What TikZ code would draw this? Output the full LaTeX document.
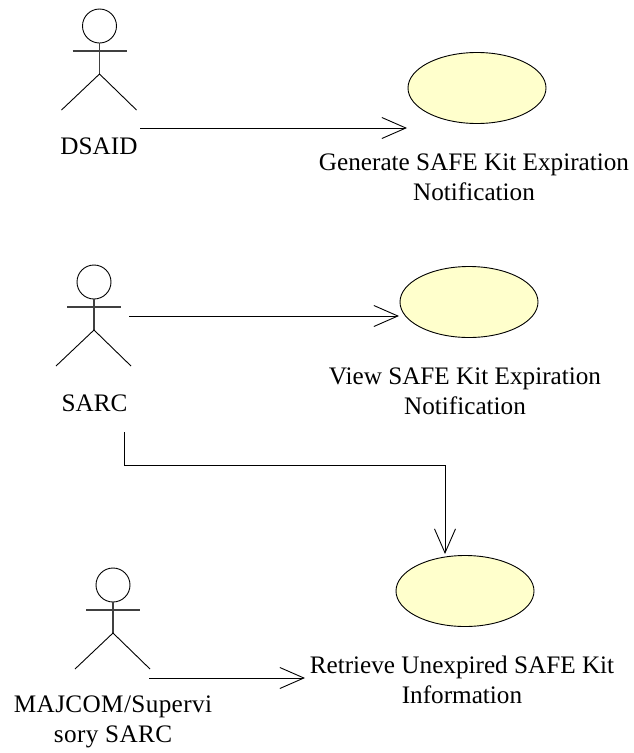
\documentclass[tikz,border=0pt]{standalone}
\usepackage{fontspec}
\setmainfont{Liberation Serif}
\usetikzlibrary{shapes.geometric,arrows.meta}
\definecolor{ucfill}{RGB}{255,255,204}
\tikzset{
  x=1pt,y=-1pt,
  usecase/.style={ellipse,draw=black,fill=ucfill,line width=0.9pt,minimum width=138pt,minimum height=71pt,inner sep=0pt},
  label/.style={align=center,font=\fontsize{25.2}{30}\selectfont,inner sep=0pt},
  conn/.style={line width=0.9pt,-{Straight Barb[length=24pt,width=21pt,line width=0.9pt]}},
  limb/.style={line width=0.9pt},
  arms/.style={line width=1.1pt,draw=black!75},
  head/.style={circle,draw=black,line width=0.9pt,minimum size=34pt,inner sep=0pt},
}
\newcommand{\actorfig}[3]{% name, x, y of head centre
  \node[head] (#1h) at (#2,#3) {};
  \coordinate (#1al) at (#2-27,#3+25);
  \coordinate (#1ar) at (#2+27,#3+25);
  \coordinate (#1hip) at (#2,#3+48);
  \coordinate (#1ll) at (#2-38,#3+84);
  \coordinate (#1lr) at (#2+37,#3+84);
  \draw[arms] (#1al) -- (#1ar);
  \draw[arms] (#1h) -- (#1hip);
  \draw[limb] (#1ll) -- (#1hip) -- (#1lr);
}
\begin{document}
\begin{tikzpicture}
\useasboundingbox (0,0) rectangle (634,753);
\actorfig{a}{99.5}{26}
\actorfig{b}{94}{282}
\actorfig{c}{113}{585}
\node[label] (la) at (99,146) {DSAID};
\node[label] (lb) at (94.5,403) {SARC};
\node[label,font=\fontsize{25.2}{30}\selectfont\addfontfeature{LetterSpace=1.5}] (lc) at (113,722) {MAJCOM/Supervi\\sory SARC};
\node[usecase] (u1) at (477,88) {};
\node[usecase] (u2) at (469,302) {};
\node[usecase] (u3) at (465,591) {};
\node[label] (t1) at (474,177) {Generate SAFE Kit Expiration\\Notification};
\node[label] (t2) at (465,391) {View SAFE Kit Expiration\\Notification};
\node[label] (t3) at (462,680) {Retrieve Unexpired SAFE Kit\\Information};
\coordinate (s1) at (140,128);
\coordinate (e1) at (407,128);
\coordinate (s2) at (129,316);
\coordinate (e2) at (399,316);
\coordinate (s3) at (124,432);
\coordinate (m3a) at (124,465);
\coordinate (m3b) at (445,465);
\coordinate (e3) at (445,554);
\coordinate (s4) at (149,678);
\coordinate (e4) at (305,678);
\draw[conn] (s1) -- (e1);
\draw[conn] (s2) -- (e2);
\draw[conn] (s3) -- (m3a) -- (m3b) -- (e3);
\draw[conn] (s4) -- (e4);
\end{tikzpicture}
\end{document}
